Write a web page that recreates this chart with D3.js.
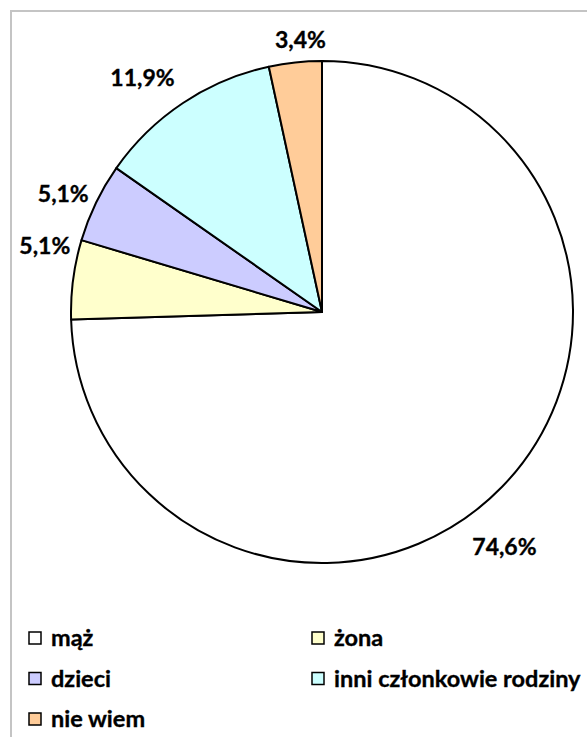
<!DOCTYPE html>
<html>
<head>
<meta charset="utf-8">
<script src="https://cdn.jsdelivr.net/npm/d3@7"></script>
<style>
  body { margin: 0; background: #fff; }
  text { font-family: Lato, "Open Sans", sans-serif; font-weight: 700; fill: #000; stroke: #000; stroke-width: 0.35px; }
</style>
</head>
<body>
<div id="content"></div>
<script>
// data
var categories = ["mąż", "żona", "dzieci", "inni członkowie rodziny", "nie wiem"];
var values = [74.6, 5.1, 5.1, 11.9, 3.4];
var labels = ["74,6%", "5,1%", "5,1%", "11,9%", "3,4%"];
var colors = ["#ffffff", "#ffffcc", "#ccccff", "#ccffff", "#ffcc99"];

var width = 587,
  height = 737;

var cx = 322, cy = 312, radius = 251;

var svg = d3.select("#content").append("svg")
  .attr("width", width)
  .attr("height", height);

// chart frame
svg.append("rect")
  .attr("x", 11)
  .attr("y", 11)
  .attr("width", 640)
  .attr("height", 800)
  .attr("fill", "none")
  .attr("stroke", "#c4c4c4")
  .attr("stroke-width", 2);

var pie = d3.pie().sort(null).value(function(d) { return d; });
var arc = d3.arc().innerRadius(0).outerRadius(radius);
var arcs = pie(values);

var g = svg.append("g")
  .attr("transform", "translate(" + cx + "," + cy + ")");

g.selectAll("path.slice")
  .data(arcs)
  .enter().append("path")
  .attr("class", "slice")
  .attr("d", arc)
  .attr("fill", function(d, i) { return colors[i]; })
  .attr("stroke", "#000")
  .attr("stroke-width", 2)
  .attr("stroke-linejoin", "round");

// labels outside the end of each slice
var labelR = 268;
// small hand tweaks like the dragged labels in the original
var nudge = [[-42, 42], [14, -30], [8, 2], [1, -4], [7, 3]];

g.selectAll("text.lbl")
  .data(arcs)
  .enter().append("text")
  .attr("class", "lbl")
  .style("font-size", "23px")
  .attr("text-anchor", "middle")
  .attr("dy", "0.35em")
  .text(function(d, i) { return labels[i]; })
  .each(function(d, i) {
    var a = (d.startAngle + d.endAngle) / 2;
    var w = this.getComputedTextLength(), h = 17;
    var px = labelR * Math.sin(a), py = -labelR * Math.cos(a);
    var bx = px + Math.sign(Math.round(Math.sin(a) * 3)) * w / 2;
    var by = py - Math.cos(a) * h / 2;
    d3.select(this)
      .attr("x", bx + nudge[i][0])
      .attr("y", by + nudge[i][1]);
  });

// legend
var legX = d3.scalePoint().domain([0, 1]).range([29, 312]);
var legY = d3.scalePoint().domain([0, 1, 2]).range([638, 719]);

var leg = svg.selectAll("g.leg")
  .data(categories)
  .enter().append("g")
  .attr("class", "leg")
  .attr("transform", function(d, i) {
    return "translate(" + legX(i % 2) + "," + legY(Math.floor(i / 2)) + ")";
  });

leg.append("rect")
  .attr("x", 0)
  .attr("y", -6)
  .attr("width", 12)
  .attr("height", 12)
  .attr("fill", function(d, i) { return colors[i]; })
  .attr("stroke", "#000")
  .attr("stroke-width", 1.5);

leg.append("text")
  .attr("x", 22)
  .attr("y", 0)
  .attr("dy", "0.36em")
  .style("font-size", "23.5px")
  .text(function(d) { return d; });
</script>
</body>
</html>
